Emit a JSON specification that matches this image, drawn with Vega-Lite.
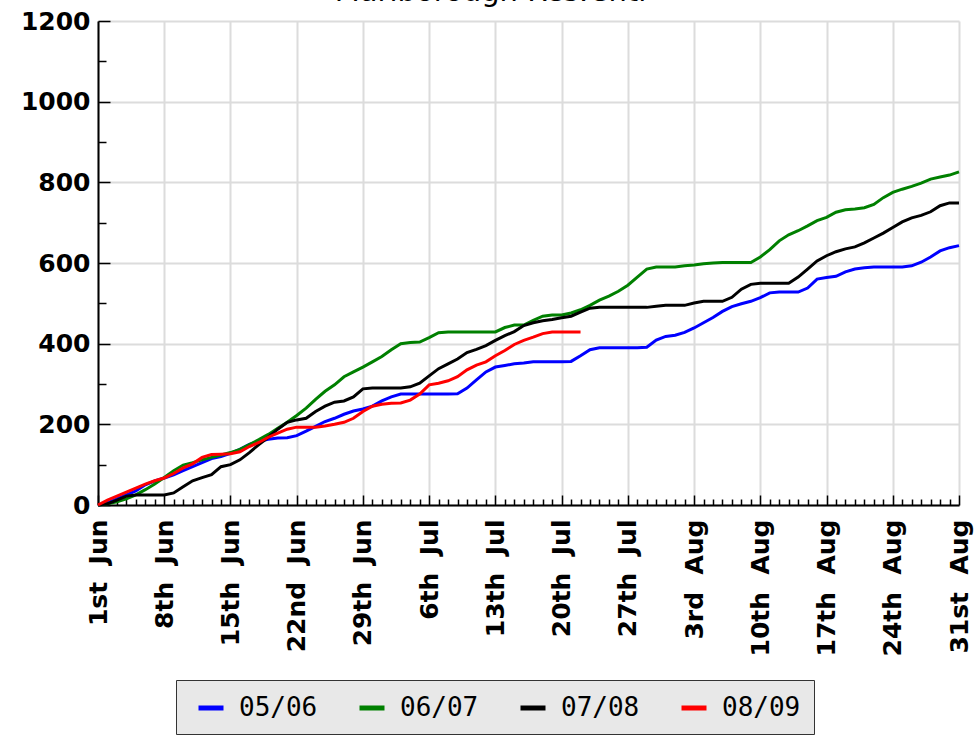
{
  "$schema": "https://vega.github.io/schema/vega-lite/v6.json",
  "width": 861,
  "height": 484,
  "autosize": {"type": "none"},
  "padding": {"left": 98, "top": 21, "right": 16, "bottom": 231},
  "background": "white",
  "view": {"stroke": null},
  "title": {"text": "Marlborough Res.Cntl", "font": "DejaVu Sans", "fontSize": 29, "fontWeight": "normal", "color": "black", "anchor": "middle", "dx": -38, "offset": -21, "baseline": "alphabetic"},
  "data": {"values": [
    {"s":"05/06","d":"2008-06-01","v":0},{"s":"05/06","d":"2008-06-02","v":5},{"s":"05/06","d":"2008-06-03","v":15},{"s":"05/06","d":"2008-06-04","v":25},{"s":"05/06","d":"2008-06-05","v":35},{"s":"05/06","d":"2008-06-06","v":50},{"s":"05/06","d":"2008-06-07","v":60},{"s":"05/06","d":"2008-06-08","v":67},{"s":"05/06","d":"2008-06-09","v":75},{"s":"05/06","d":"2008-06-10","v":85},
    {"s":"05/06","d":"2008-06-11","v":95},{"s":"05/06","d":"2008-06-12","v":105},{"s":"05/06","d":"2008-06-13","v":115},{"s":"05/06","d":"2008-06-14","v":120},{"s":"05/06","d":"2008-06-15","v":128},{"s":"05/06","d":"2008-06-16","v":138},{"s":"05/06","d":"2008-06-17","v":150},{"s":"05/06","d":"2008-06-18","v":158},{"s":"05/06","d":"2008-06-19","v":163},{"s":"05/06","d":"2008-06-20","v":166},
    {"s":"05/06","d":"2008-06-21","v":167},{"s":"05/06","d":"2008-06-22","v":172},{"s":"05/06","d":"2008-06-23","v":183},{"s":"05/06","d":"2008-06-24","v":195},{"s":"05/06","d":"2008-06-25","v":207},{"s":"05/06","d":"2008-06-26","v":215},{"s":"05/06","d":"2008-06-27","v":225},{"s":"05/06","d":"2008-06-28","v":233},{"s":"05/06","d":"2008-06-29","v":238},{"s":"05/06","d":"2008-06-30","v":245},
    {"s":"05/06","d":"2008-07-01","v":258},{"s":"05/06","d":"2008-07-02","v":268},{"s":"05/06","d":"2008-07-03","v":275},{"s":"05/06","d":"2008-07-04","v":275},{"s":"05/06","d":"2008-07-05","v":275},{"s":"05/06","d":"2008-07-06","v":275},{"s":"05/06","d":"2008-07-07","v":275},{"s":"05/06","d":"2008-07-08","v":275},{"s":"05/06","d":"2008-07-09","v":276},{"s":"05/06","d":"2008-07-10","v":290},
    {"s":"05/06","d":"2008-07-11","v":310},{"s":"05/06","d":"2008-07-12","v":330},{"s":"05/06","d":"2008-07-13","v":342},{"s":"05/06","d":"2008-07-14","v":346},{"s":"05/06","d":"2008-07-15","v":350},{"s":"05/06","d":"2008-07-16","v":352},{"s":"05/06","d":"2008-07-17","v":355},{"s":"05/06","d":"2008-07-18","v":355},{"s":"05/06","d":"2008-07-19","v":355},{"s":"05/06","d":"2008-07-20","v":355},
    {"s":"05/06","d":"2008-07-21","v":356},{"s":"05/06","d":"2008-07-22","v":370},{"s":"05/06","d":"2008-07-23","v":385},{"s":"05/06","d":"2008-07-24","v":390},{"s":"05/06","d":"2008-07-25","v":390},{"s":"05/06","d":"2008-07-26","v":390},{"s":"05/06","d":"2008-07-27","v":390},{"s":"05/06","d":"2008-07-28","v":390},{"s":"05/06","d":"2008-07-29","v":391},{"s":"05/06","d":"2008-07-30","v":409},
    {"s":"05/06","d":"2008-07-31","v":418},{"s":"05/06","d":"2008-08-01","v":421},{"s":"05/06","d":"2008-08-02","v":428},{"s":"05/06","d":"2008-08-03","v":439},{"s":"05/06","d":"2008-08-04","v":452},{"s":"05/06","d":"2008-08-05","v":465},{"s":"05/06","d":"2008-08-06","v":480},{"s":"05/06","d":"2008-08-07","v":492},{"s":"05/06","d":"2008-08-08","v":499},{"s":"05/06","d":"2008-08-09","v":505},
    {"s":"05/06","d":"2008-08-10","v":514},{"s":"05/06","d":"2008-08-11","v":526},{"s":"05/06","d":"2008-08-12","v":528},{"s":"05/06","d":"2008-08-13","v":528},{"s":"05/06","d":"2008-08-14","v":528},{"s":"05/06","d":"2008-08-15","v":538},{"s":"05/06","d":"2008-08-16","v":560},{"s":"05/06","d":"2008-08-17","v":564},{"s":"05/06","d":"2008-08-18","v":567},{"s":"05/06","d":"2008-08-19","v":578},
    {"s":"05/06","d":"2008-08-20","v":585},{"s":"05/06","d":"2008-08-21","v":588},{"s":"05/06","d":"2008-08-22","v":590},{"s":"05/06","d":"2008-08-23","v":590},{"s":"05/06","d":"2008-08-24","v":590},{"s":"05/06","d":"2008-08-25","v":590},{"s":"05/06","d":"2008-08-26","v":593},{"s":"05/06","d":"2008-08-27","v":602},{"s":"05/06","d":"2008-08-28","v":615},{"s":"05/06","d":"2008-08-29","v":630},
    {"s":"05/06","d":"2008-08-30","v":638},{"s":"05/06","d":"2008-08-31","v":643},

    {"s":"06/07","d":"2008-06-01","v":0},{"s":"06/07","d":"2008-06-02","v":3},{"s":"06/07","d":"2008-06-03","v":8},{"s":"06/07","d":"2008-06-04","v":15},{"s":"06/07","d":"2008-06-05","v":25},{"s":"06/07","d":"2008-06-06","v":38},{"s":"06/07","d":"2008-06-07","v":52},{"s":"06/07","d":"2008-06-08","v":68},{"s":"06/07","d":"2008-06-09","v":85},{"s":"06/07","d":"2008-06-10","v":99},
    {"s":"06/07","d":"2008-06-11","v":105},{"s":"06/07","d":"2008-06-12","v":112},{"s":"06/07","d":"2008-06-13","v":118},{"s":"06/07","d":"2008-06-14","v":124},{"s":"06/07","d":"2008-06-15","v":130},{"s":"06/07","d":"2008-06-16","v":138},{"s":"06/07","d":"2008-06-17","v":150},{"s":"06/07","d":"2008-06-18","v":162},{"s":"06/07","d":"2008-06-19","v":175},{"s":"06/07","d":"2008-06-20","v":190},
    {"s":"06/07","d":"2008-06-21","v":205},{"s":"06/07","d":"2008-06-22","v":222},{"s":"06/07","d":"2008-06-23","v":240},{"s":"06/07","d":"2008-06-24","v":262},{"s":"06/07","d":"2008-06-25","v":282},{"s":"06/07","d":"2008-06-26","v":298},{"s":"06/07","d":"2008-06-27","v":318},{"s":"06/07","d":"2008-06-28","v":330},{"s":"06/07","d":"2008-06-29","v":342},{"s":"06/07","d":"2008-06-30","v":355},
    {"s":"06/07","d":"2008-07-01","v":368},{"s":"06/07","d":"2008-07-02","v":385},{"s":"06/07","d":"2008-07-03","v":400},{"s":"06/07","d":"2008-07-04","v":403},{"s":"06/07","d":"2008-07-05","v":404},{"s":"06/07","d":"2008-07-06","v":415},{"s":"06/07","d":"2008-07-07","v":427},{"s":"06/07","d":"2008-07-08","v":429},{"s":"06/07","d":"2008-07-09","v":429},{"s":"06/07","d":"2008-07-10","v":429},
    {"s":"06/07","d":"2008-07-11","v":429},{"s":"06/07","d":"2008-07-12","v":429},{"s":"06/07","d":"2008-07-13","v":429},{"s":"06/07","d":"2008-07-14","v":440},{"s":"06/07","d":"2008-07-15","v":446},{"s":"06/07","d":"2008-07-16","v":446},{"s":"06/07","d":"2008-07-17","v":458},{"s":"06/07","d":"2008-07-18","v":468},{"s":"06/07","d":"2008-07-19","v":471},{"s":"06/07","d":"2008-07-20","v":471},
    {"s":"06/07","d":"2008-07-21","v":476},{"s":"06/07","d":"2008-07-22","v":484},{"s":"06/07","d":"2008-07-23","v":495},{"s":"06/07","d":"2008-07-24","v":508},{"s":"06/07","d":"2008-07-25","v":518},{"s":"06/07","d":"2008-07-26","v":530},{"s":"06/07","d":"2008-07-27","v":545},{"s":"06/07","d":"2008-07-28","v":565},{"s":"06/07","d":"2008-07-29","v":585},{"s":"06/07","d":"2008-07-30","v":590},
    {"s":"06/07","d":"2008-07-31","v":590},{"s":"06/07","d":"2008-08-01","v":590},{"s":"06/07","d":"2008-08-02","v":593},{"s":"06/07","d":"2008-08-03","v":595},{"s":"06/07","d":"2008-08-04","v":598},{"s":"06/07","d":"2008-08-05","v":600},{"s":"06/07","d":"2008-08-06","v":601},{"s":"06/07","d":"2008-08-07","v":601},{"s":"06/07","d":"2008-08-08","v":601},{"s":"06/07","d":"2008-08-09","v":601},
    {"s":"06/07","d":"2008-08-10","v":615},{"s":"06/07","d":"2008-08-11","v":633},{"s":"06/07","d":"2008-08-12","v":655},{"s":"06/07","d":"2008-08-13","v":670},{"s":"06/07","d":"2008-08-14","v":680},{"s":"06/07","d":"2008-08-15","v":692},{"s":"06/07","d":"2008-08-16","v":705},{"s":"06/07","d":"2008-08-17","v":713},{"s":"06/07","d":"2008-08-18","v":726},{"s":"06/07","d":"2008-08-19","v":732},
    {"s":"06/07","d":"2008-08-20","v":734},{"s":"06/07","d":"2008-08-21","v":737},{"s":"06/07","d":"2008-08-22","v":745},{"s":"06/07","d":"2008-08-23","v":762},{"s":"06/07","d":"2008-08-24","v":775},{"s":"06/07","d":"2008-08-25","v":783},{"s":"06/07","d":"2008-08-26","v":790},{"s":"06/07","d":"2008-08-27","v":798},{"s":"06/07","d":"2008-08-28","v":808},{"s":"06/07","d":"2008-08-29","v":813},
    {"s":"06/07","d":"2008-08-30","v":818},{"s":"06/07","d":"2008-08-31","v":826},

    {"s":"07/08","d":"2008-06-01","v":0},{"s":"07/08","d":"2008-06-02","v":3},{"s":"07/08","d":"2008-06-03","v":12},{"s":"07/08","d":"2008-06-04","v":22},{"s":"07/08","d":"2008-06-05","v":25},{"s":"07/08","d":"2008-06-06","v":25},{"s":"07/08","d":"2008-06-07","v":25},{"s":"07/08","d":"2008-06-08","v":25},{"s":"07/08","d":"2008-06-09","v":30},{"s":"07/08","d":"2008-06-10","v":45},
    {"s":"07/08","d":"2008-06-11","v":60},{"s":"07/08","d":"2008-06-12","v":68},{"s":"07/08","d":"2008-06-13","v":75},{"s":"07/08","d":"2008-06-14","v":95},{"s":"07/08","d":"2008-06-15","v":100},{"s":"07/08","d":"2008-06-16","v":112},{"s":"07/08","d":"2008-06-17","v":130},{"s":"07/08","d":"2008-06-18","v":150},{"s":"07/08","d":"2008-06-19","v":168},{"s":"07/08","d":"2008-06-20","v":188},
    {"s":"07/08","d":"2008-06-21","v":205},{"s":"07/08","d":"2008-06-22","v":211},{"s":"07/08","d":"2008-06-23","v":215},{"s":"07/08","d":"2008-06-24","v":232},{"s":"07/08","d":"2008-06-25","v":245},{"s":"07/08","d":"2008-06-26","v":255},{"s":"07/08","d":"2008-06-27","v":258},{"s":"07/08","d":"2008-06-28","v":268},{"s":"07/08","d":"2008-06-29","v":288},{"s":"07/08","d":"2008-06-30","v":290},
    {"s":"07/08","d":"2008-07-01","v":290},{"s":"07/08","d":"2008-07-02","v":290},{"s":"07/08","d":"2008-07-03","v":290},{"s":"07/08","d":"2008-07-04","v":293},{"s":"07/08","d":"2008-07-05","v":302},{"s":"07/08","d":"2008-07-06","v":320},{"s":"07/08","d":"2008-07-07","v":338},{"s":"07/08","d":"2008-07-08","v":350},{"s":"07/08","d":"2008-07-09","v":362},{"s":"07/08","d":"2008-07-10","v":378},
    {"s":"07/08","d":"2008-07-11","v":386},{"s":"07/08","d":"2008-07-12","v":395},{"s":"07/08","d":"2008-07-13","v":408},{"s":"07/08","d":"2008-07-14","v":420},{"s":"07/08","d":"2008-07-15","v":430},{"s":"07/08","d":"2008-07-16","v":445},{"s":"07/08","d":"2008-07-17","v":452},{"s":"07/08","d":"2008-07-18","v":457},{"s":"07/08","d":"2008-07-19","v":460},{"s":"07/08","d":"2008-07-20","v":464},
    {"s":"07/08","d":"2008-07-21","v":468},{"s":"07/08","d":"2008-07-22","v":478},{"s":"07/08","d":"2008-07-23","v":488},{"s":"07/08","d":"2008-07-24","v":490},{"s":"07/08","d":"2008-07-25","v":490},{"s":"07/08","d":"2008-07-26","v":490},{"s":"07/08","d":"2008-07-27","v":490},{"s":"07/08","d":"2008-07-28","v":490},{"s":"07/08","d":"2008-07-29","v":490},{"s":"07/08","d":"2008-07-30","v":493},
    {"s":"07/08","d":"2008-07-31","v":495},{"s":"07/08","d":"2008-08-01","v":495},{"s":"07/08","d":"2008-08-02","v":495},{"s":"07/08","d":"2008-08-03","v":501},{"s":"07/08","d":"2008-08-04","v":505},{"s":"07/08","d":"2008-08-05","v":505},{"s":"07/08","d":"2008-08-06","v":505},{"s":"07/08","d":"2008-08-07","v":515},{"s":"07/08","d":"2008-08-08","v":535},{"s":"07/08","d":"2008-08-09","v":547},
    {"s":"07/08","d":"2008-08-10","v":550},{"s":"07/08","d":"2008-08-11","v":550},{"s":"07/08","d":"2008-08-12","v":550},{"s":"07/08","d":"2008-08-13","v":550},{"s":"07/08","d":"2008-08-14","v":565},{"s":"07/08","d":"2008-08-15","v":585},{"s":"07/08","d":"2008-08-16","v":605},{"s":"07/08","d":"2008-08-17","v":618},{"s":"07/08","d":"2008-08-18","v":628},{"s":"07/08","d":"2008-08-19","v":635},
    {"s":"07/08","d":"2008-08-20","v":640},{"s":"07/08","d":"2008-08-21","v":650},{"s":"07/08","d":"2008-08-22","v":662},{"s":"07/08","d":"2008-08-23","v":674},{"s":"07/08","d":"2008-08-24","v":688},{"s":"07/08","d":"2008-08-25","v":702},{"s":"07/08","d":"2008-08-26","v":712},{"s":"07/08","d":"2008-08-27","v":718},{"s":"07/08","d":"2008-08-28","v":727},{"s":"07/08","d":"2008-08-29","v":742},
    {"s":"07/08","d":"2008-08-30","v":749},{"s":"07/08","d":"2008-08-31","v":749},

    {"s":"08/09","d":"2008-06-01","v":0},{"s":"08/09","d":"2008-06-02","v":12},{"s":"08/09","d":"2008-06-03","v":22},{"s":"08/09","d":"2008-06-04","v":32},{"s":"08/09","d":"2008-06-05","v":42},{"s":"08/09","d":"2008-06-06","v":52},{"s":"08/09","d":"2008-06-07","v":60},{"s":"08/09","d":"2008-06-08","v":67},{"s":"08/09","d":"2008-06-09","v":78},{"s":"08/09","d":"2008-06-10","v":92},
    {"s":"08/09","d":"2008-06-11","v":102},{"s":"08/09","d":"2008-06-12","v":118},{"s":"08/09","d":"2008-06-13","v":125},{"s":"08/09","d":"2008-06-14","v":126},{"s":"08/09","d":"2008-06-15","v":127},{"s":"08/09","d":"2008-06-16","v":132},{"s":"08/09","d":"2008-06-17","v":145},{"s":"08/09","d":"2008-06-18","v":155},{"s":"08/09","d":"2008-06-19","v":168},{"s":"08/09","d":"2008-06-20","v":178},
    {"s":"08/09","d":"2008-06-21","v":188},{"s":"08/09","d":"2008-06-22","v":193},{"s":"08/09","d":"2008-06-23","v":193},{"s":"08/09","d":"2008-06-24","v":193},{"s":"08/09","d":"2008-06-25","v":196},{"s":"08/09","d":"2008-06-26","v":200},{"s":"08/09","d":"2008-06-27","v":205},{"s":"08/09","d":"2008-06-28","v":215},{"s":"08/09","d":"2008-06-29","v":232},{"s":"08/09","d":"2008-06-30","v":245},
    {"s":"08/09","d":"2008-07-01","v":250},{"s":"08/09","d":"2008-07-02","v":252},{"s":"08/09","d":"2008-07-03","v":253},{"s":"08/09","d":"2008-07-04","v":260},{"s":"08/09","d":"2008-07-05","v":275},{"s":"08/09","d":"2008-07-06","v":298},{"s":"08/09","d":"2008-07-07","v":302},{"s":"08/09","d":"2008-07-08","v":308},{"s":"08/09","d":"2008-07-09","v":318},{"s":"08/09","d":"2008-07-10","v":335},
    {"s":"08/09","d":"2008-07-11","v":347},{"s":"08/09","d":"2008-07-12","v":355},{"s":"08/09","d":"2008-07-13","v":370},{"s":"08/09","d":"2008-07-14","v":383},{"s":"08/09","d":"2008-07-15","v":398},{"s":"08/09","d":"2008-07-16","v":408},{"s":"08/09","d":"2008-07-17","v":416},{"s":"08/09","d":"2008-07-18","v":425},{"s":"08/09","d":"2008-07-19","v":429},{"s":"08/09","d":"2008-07-20","v":429},
    {"s":"08/09","d":"2008-07-21","v":429},{"s":"08/09","d":"2008-07-22","v":429}
  ]},
  "mark": {"type": "line", "strokeWidth": 3, "interpolate": "linear", "clip": false},
  "encoding": {
    "x": {
      "field": "d", "type": "temporal",
      "scale": {"type": "utc", "domain": [{"year": 2008, "month": 6, "date": 1, "utc": true}, {"year": 2008, "month": 8, "date": 31, "utc": true}]},
      "axis": {
        "title": null,
        "tickCount": {"interval": "day", "step": 1},
        "labelExpr": "round((datum.value - utc(2008,5,1))/86400000) % 7 === 0 ? (utcdate(datum.value) + (utcdate(datum.value) % 10 === 1 && utcdate(datum.value) !== 11 ? 'st' : utcdate(datum.value) % 10 === 2 && utcdate(datum.value) !== 12 ? 'nd' : utcdate(datum.value) % 10 === 3 && utcdate(datum.value) !== 13 ? 'rd' : 'th') + '\u00a0\u00a0' + utcFormat(datum.value, '%b')) : ''",
        "labelAngle": 270,
        "labelAlign": "right",
        "labelBaseline": "middle",
        "labelFont": "DejaVu Sans",
        "labelFontWeight": "bold",
        "labelFontSize": 25,
        "labelColor": "black",
        "labelPadding": 24,
        "labelOverlap": false,
        "labelFlush": false,
        "labelBound": false,
        "tickSize": {"condition": {"test": "round((datum.value - utc(2008,5,1))/86400000) % 7 === 0", "value": -10}, "value": -6},
        "tickColor": "black",
        "tickWidth": 1.5,
        "grid": true,
        "gridColor": "#dcdcdc",
        "gridWidth": 2,
        "gridOpacity": {"condition": {"test": "round((datum.value - utc(2008,5,1))/86400000) % 7 === 0", "value": 1}, "value": 0},
        "domainColor": "black",
        "domainWidth": 2
      }
    },
    "y": {
      "field": "v", "type": "quantitative",
      "scale": {"domain": [0, 1200], "nice": false},
      "axis": {
        "title": null,
        "values": [0, 100, 200, 300, 400, 500, 600, 700, 800, 900, 1000, 1100, 1200],
        "labelExpr": "datum.value % 200 === 0 ? format(datum.value, 'd') : ''",
        "labelFont": "DejaVu Sans",
        "labelFontWeight": "bold",
        "labelFontSize": 25,
        "labelColor": "black",
        "labelPadding": 20,
        "labelOverlap": false,
        "labelFlush": false,
        "labelBound": false,
        "tickSize": {"condition": {"test": "datum.value % 200 === 0", "value": -12}, "value": -8},
        "tickColor": "black",
        "tickWidth": 1.5,
        "grid": true,
        "gridColor": "#dcdcdc",
        "gridWidth": 2,
        "gridOpacity": {"condition": {"test": "datum.value % 200 === 0", "value": 1}, "value": 0},
        "domainColor": "black",
        "domainWidth": 2
      }
    },
    "color": {
      "field": "s", "type": "nominal",
      "scale": {"domain": ["05/06", "06/07", "07/08", "08/09"], "range": ["#0000ff", "#008000", "#000000", "#ff0000"]},
      "legend": {
        "title": null,
        "orient": "none",
        "legendX": 78,
        "legendY": 659,
        "direction": "horizontal",
        "fillColor": "#e8e8e8",
        "strokeColor": "#333333",
        "padding": 13,
        "symbolType": "stroke",
        "symbolStrokeWidth": 5,
        "symbolSize": 625,
        "symbolOffset": 7,
        "labelFont": "DejaVu Sans Mono",
        "labelFontSize": 26,
        "labelColor": "black",
        "labelOffset": 13,
        "columnPadding": 31,
        "labelLimit": 200
      }
    }
  }
}
